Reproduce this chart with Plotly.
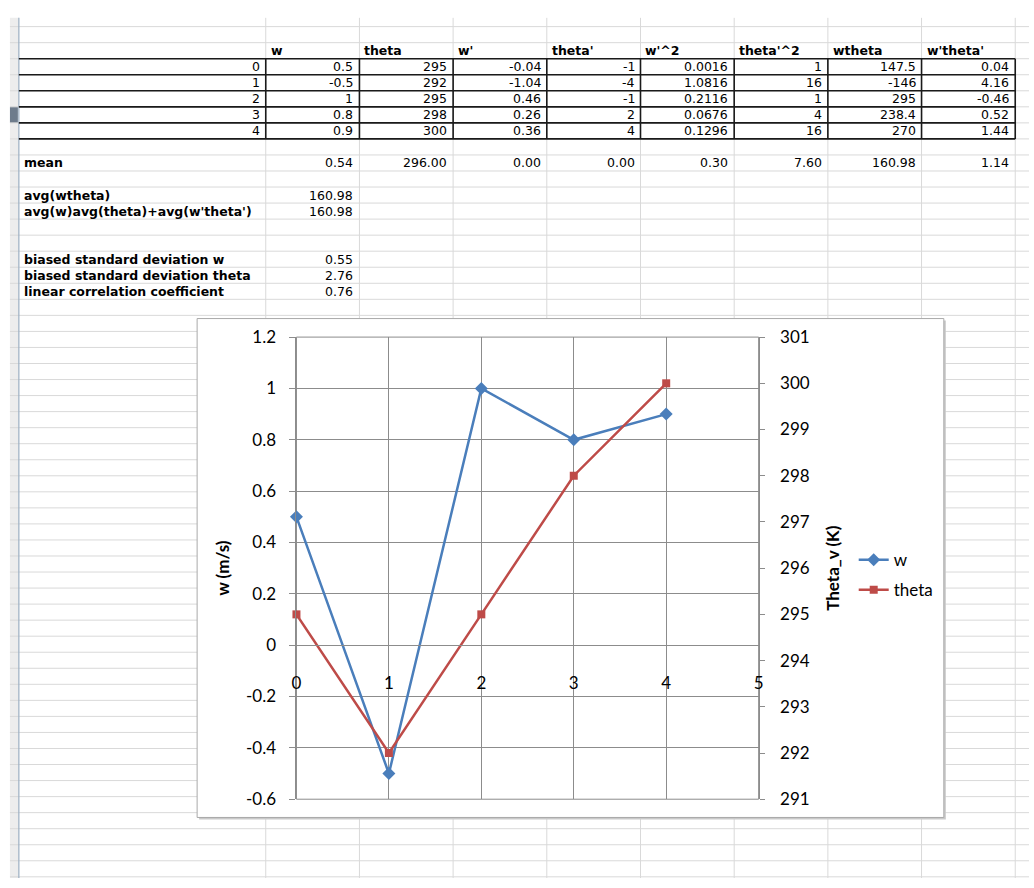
import plotly.graph_objects as go

# ---- worksheet data -------------------------------------------------------
headers = ["w", "theta", "w'", "theta'", "w'^2", "theta'^2", "wtheta", "w'theta'"]
idx = [0, 1, 2, 3, 4]
w = [0.5, -0.5, 1, 0.8, 0.9]
theta = [295, 292, 295, 298, 300]
w_prime = [-0.04, -1.04, 0.46, 0.26, 0.36]
theta_prime = [-1, -4, -1, 2, 4]
w_prime_sq = [0.0016, 1.0816, 0.2116, 0.0676, 0.1296]
theta_prime_sq = [1, 16, 1, 4, 16]
wtheta = [147.5, -146, 295, 238.4, 270]
w_theta_prime = [0.04, 4.16, -0.46, 0.52, 1.44]
means = [0.54, 296.00, 0.00, 0.00, 0.30, 7.60, 160.98, 1.14]

avg_labels = ["avg(wtheta)", "avg(w)avg(theta)+avg(w'theta')"]
avg_values = [160.98, 160.98]
stat_labels = ["biased standard deviation w",
               "biased standard deviation theta",
               "linear correlation coefficient"]
stat_values = [0.55, 2.76, 0.76]

# chart axes
x_ticks = [0, 1, 2, 3, 4, 5]
w_ticks = [-0.6, -0.4, -0.2, 0, 0.2, 0.4, 0.6, 0.8, 1.0, 1.2]
w_tick_text = ["-0.6", "-0.4", "-0.2", "0", "0.2", "0.4", "0.6", "0.8", "1", "1.2"]
theta_ticks = [291, 292, 293, 294, 295, 296, 297, 298, 299, 300, 301]
w_range = [-0.6, 1.2]
theta_range = [291, 301]
x_range = [0, 5]

# ---- page geometry (pixels) ----------------------------------------------
W, H = 1034, 888
ROW0, ROWH = 16.0, 16.43
COLS = [14, 263.3, 357.9, 452.5, 547.1, 641.7, 736.3, 830.9, 925.5, 1020.1]
SHEET_FONT = "DejaVu Sans"
CHART_FONT = "Lato"
BLUE = "#4A7EBB"
RED = "#BE4B48"
GRID = "#8C8C8C"


def px(x):
    return x / W


def py(y):
    return 1 - y / H


def row_y(k):
    return ROW0 + ROWH * k


def row_mid(k):
    return ROW0 + ROWH * (k + 0.5)


shapes = []
annotations = []

# row-header strip on the far left
shapes.append(dict(type="rect", xref="paper", yref="paper",
                   x0=px(5), x1=px(14), y0=py(H), y1=py(7),
                   fillcolor="#EDEDED", line=dict(width=0), layer="below"))
shapes.append(dict(type="rect", xref="paper", yref="paper",
                   x0=px(5), x1=px(13), y0=py(row_y(6)), y1=py(row_y(5)),
                   fillcolor="#6E7C8C", line=dict(width=0), layer="below"))

# light worksheet gridlines
grid_path = ""
k = 0
while row_y(k) <= H:
    y = row_y(k)
    grid_path += f"M{px(5)},{py(y)}L{px(W)},{py(y)}"
    k += 1
for c in COLS[1:]:
    grid_path += f"M{px(c)},{py(7)}L{px(c)},{py(H)}"
shapes.append(dict(type="path", xref="paper", yref="paper", path=grid_path,
                   line=dict(color="#D9D9D9", width=1), layer="below"))
shapes.append(dict(type="line", xref="paper", yref="paper",
                   x0=px(14), x1=px(14), y0=py(7), y1=py(H),
                   line=dict(color="#9DAFC2", width=1.2), layer="below"))

# black borders around the data block
border_path = ""
for k in range(2, 8):
    y = row_y(k)
    border_path += f"M{px(14)},{py(y)}L{px(COLS[-1])},{py(y)}"
for c in COLS[1:]:
    border_path += f"M{px(c)},{py(row_y(2))}L{px(c)},{py(row_y(7))}"
shapes.append(dict(type="path", xref="paper", yref="paper", path=border_path,
                   line=dict(color="#1A1A1A", width=1.6), layer="below"))


def cell_text(text, col, k, align="right", bold=False):
    if align == "right":
        x, anchor = COLS[col + 1] - 4, "right"
    else:
        x, anchor = COLS[col] + 3, "left"
    annotations.append(dict(
        text=text, xref="paper", yref="paper", x=px(x), y=py(row_mid(k)),
        xanchor=anchor, yanchor="middle", showarrow=False,
        font=dict(family=SHEET_FONT, size=12.5, color="black",
                  weight="bold" if bold else "normal")))


def label_text(text, k):
    annotations.append(dict(
        text=text, xref="paper", yref="paper", x=px(17), y=py(row_mid(k)),
        xanchor="left", yanchor="middle", showarrow=False,
        font=dict(family=SHEET_FONT, size=12.5, color="black", weight="bold")))


for j, h in enumerate(headers):
    cell_text(h, j + 1, 1, align="left", bold=True)

columns = [w, theta, w_prime, theta_prime, w_prime_sq, theta_prime_sq,
           wtheta, w_theta_prime]
for i, n in enumerate(idx):
    cell_text(str(n), 0, 2 + i)
    for j, col in enumerate(columns):
        cell_text(f"{col[i]:g}", j + 1, 2 + i)

label_text("mean", 8)
for j, m in enumerate(means):
    cell_text(f"{m:.2f}", j + 1, 8)

for i, (lab, val) in enumerate(zip(avg_labels, avg_values)):
    label_text(lab, 10 + i)
    cell_text(f"{val:.2f}", 1, 10 + i)

for i, (lab, val) in enumerate(zip(stat_labels, stat_values)):
    label_text(lab, 14 + i)
    cell_text(f"{val:.2f}", 1, 14 + i)

# embedded chart frame with a soft drop shadow
FX0, FY0, FX1, FY1 = 194, 315, 948, 826
shapes.append(dict(type="rect", xref="paper", yref="paper",
                   x0=px(FX0 + 2), x1=px(FX1 + 2), y0=py(FY1 + 2), y1=py(FY0 + 2),
                   fillcolor="#C9C9C9", line=dict(width=0), layer="below"))
shapes.append(dict(type="rect", xref="paper", yref="paper",
                   x0=px(FX0), x1=px(FX1), y0=py(FY1), y1=py(FY0),
                   fillcolor="white", line=dict(color="#A9A9A9", width=1),
                   layer="below"))
# outline of the plot area (top and bottom gridlines included)
shapes.append(dict(type="rect", xref="x domain", yref="y domain",
                   x0=0, x1=1, y0=0, y1=1, fillcolor="rgba(0,0,0,0)",
                   line=dict(color=GRID, width=1), layer="below"))

# plot area
PX0, PX1 = 294.3, 761.0
PY_TOP, PY_BOT = 334.0, 807.3
ydom = [py(PY_BOT), py(PY_TOP)]
xdom = [px(PX0), px(PX1)]
# horizontal axis crosses the vertical axis at w = 0
zero_pos = ydom[0] + (0 - w_range[0]) / (w_range[1] - w_range[0]) * (ydom[1] - ydom[0])

fig = go.Figure()
fig.add_trace(go.Scatter(
    x=idx, y=w, name="w", mode="lines+markers", legendgroup="w",
    cliponaxis=False,
    line=dict(color=BLUE, width=2.5),
    marker=dict(symbol="diamond", size=10, color=BLUE)))
fig.add_trace(go.Scatter(
    x=idx, y=theta, name="theta", mode="lines+markers", yaxis="y2",
    legendgroup="theta", cliponaxis=False,
    line=dict(color=RED, width=2.5),
    marker=dict(symbol="square", size=8, color=RED)))

tick_font = dict(family=CHART_FONT, size=17, color="black")
title_font = dict(family=CHART_FONT, size=17, color="black", weight="bold")

fig.update_layout(
    width=W, height=H, margin=dict(l=0, r=0, t=0, b=0),
    paper_bgcolor="white", plot_bgcolor="rgba(0,0,0,0)",
    shapes=shapes, annotations=annotations,
    xaxis=dict(domain=xdom, range=x_range, tickvals=x_ticks,
               ticktext=[str(t) for t in x_ticks],
               showgrid=True, gridcolor=GRID, gridwidth=1, zeroline=False,
               anchor="free", position=zero_pos,
               showline=True, linecolor=GRID, linewidth=1,
               ticks="", ticklabelstandoff=22, tickfont=tick_font,
               fixedrange=True),
    yaxis=dict(domain=ydom, range=w_range, tickvals=w_ticks,
               ticktext=w_tick_text, showgrid=True, gridcolor=GRID,
               gridwidth=1, zeroline=False, showline=True, linecolor=GRID,
               ticks="outside", ticklen=6, tickcolor=GRID,
               ticklabelstandoff=10, tickfont=tick_font,
               title=dict(text="w (m/s)", font=title_font, standoff=12),
               fixedrange=True),
    yaxis2=dict(overlaying="y", side="right", anchor="x", range=theta_range,
                tickvals=theta_ticks, showgrid=False, zeroline=False,
                showline=True, linecolor=GRID, ticks="outside", ticklen=5,
                tickcolor=GRID, ticklabelstandoff=12, tickfont=tick_font,
                title=dict(text="Theta_v (K)", font=title_font, standoff=18),
                fixedrange=True),
    legend=dict(x=px(857), y=py(544), xanchor="left", yanchor="top",
                font=dict(family=CHART_FONT, size=17, color="black"),
                bgcolor="rgba(0,0,0,0)", traceorder="grouped",
                tracegroupgap=5, itemwidth=30),
    showlegend=True,
)

fig.write_html("out.html")
